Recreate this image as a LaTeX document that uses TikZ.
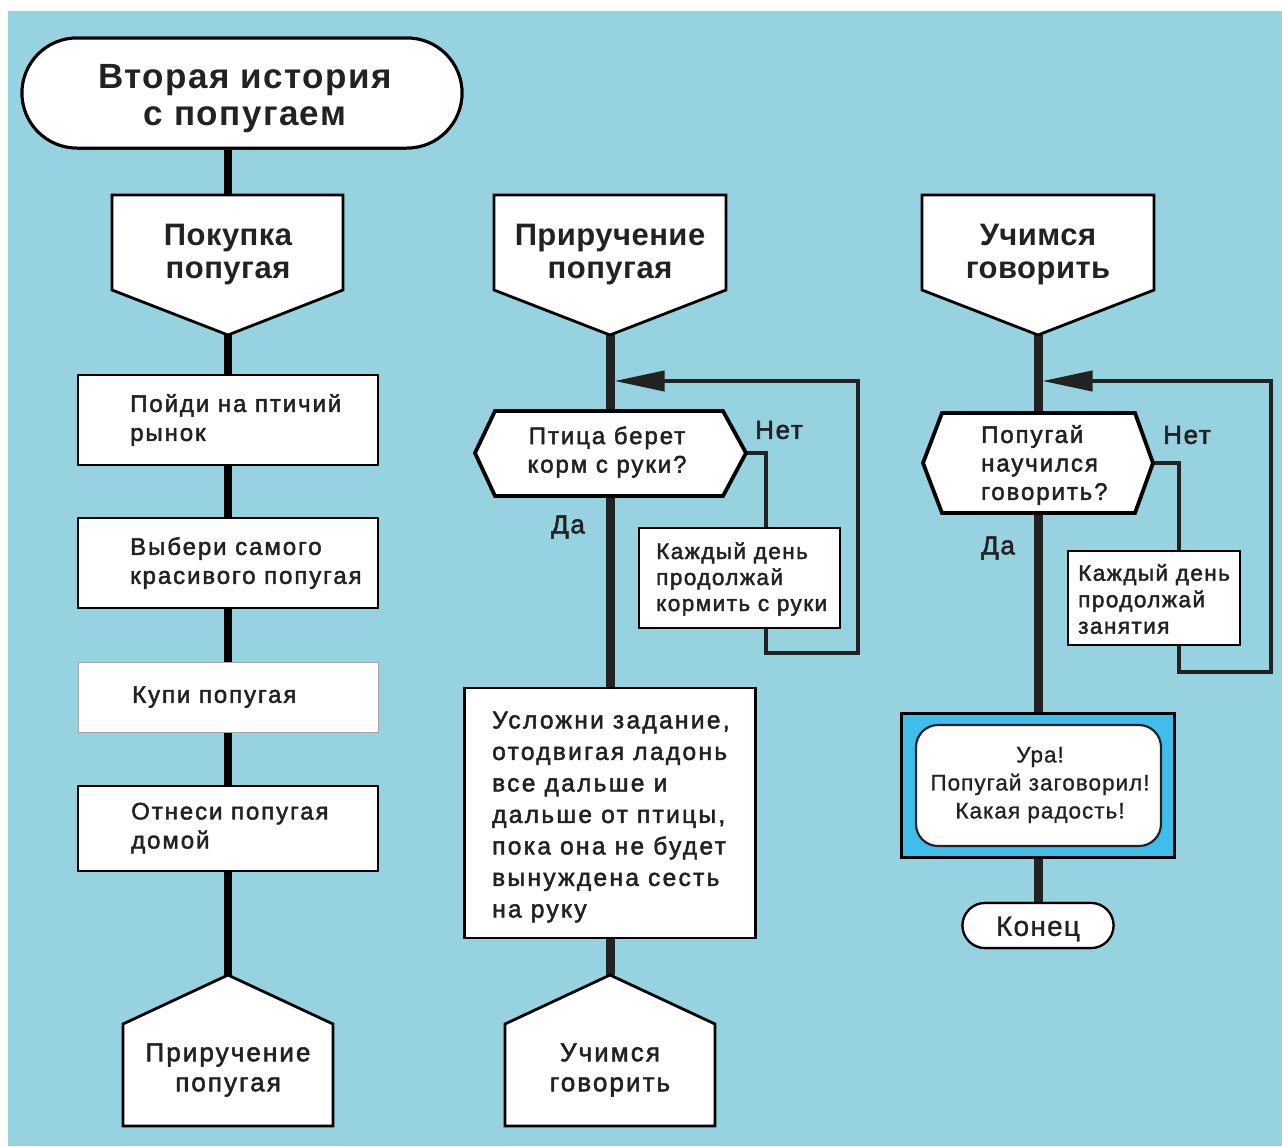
\documentclass[tikz,border=0pt]{standalone}
\usepackage{fontspec}
\setmainfont{Liberation Sans}
\newfontfamily\headfont[LetterSpace=1.5]{Liberation Sans}
\newfontfamily\titlefont[LetterSpace=4]{Liberation Sans}
\newfontfamily\bodyfont[LetterSpace=8,FakeBold=2]{Liberation Sans}
\newfontfamily\widefont[LetterSpace=9.5,FakeBold=2]{Liberation Sans}
\newfontfamily\midfont[LetterSpace=6.5,FakeBold=2]{Liberation Sans}
\newfontfamily\plainfont[LetterSpace=4.5,FakeBold=1]{Liberation Sans}
\usetikzlibrary{arrows.meta}

\definecolor{sky}{HTML}{96D2DF}
\definecolor{glow}{HTML}{3FBEEB}
\definecolor{ink}{HTML}{222222}

\tikzset{
  shapeline/.style={draw=black, line width=2.8pt, fill=white, line join=miter},
  hexline/.style={draw=black, line width=3.8pt, fill=white, line join=miter},
  procbox/.style={draw=black, line width=2.8pt, fill=white, inner sep=0pt},
  thinbox/.style={draw=gray!70, line width=1pt, fill=white, inner sep=0pt},
  flowleft/.style={draw=black, line width=8pt},
  flowmid/.style={draw=ink, line width=9pt},
  loopline/.style={draw=ink, line width=4pt, line join=miter},
  looparrow/.style={loopline, -{Triangle[length=50pt,width=20pt]}},
  txt/.style={text=ink, inner sep=0pt},
  headtxt/.style={txt, align=center, font=\headfont\bfseries\fontsize{31}{33}\selectfont},
  foottxt/.style={txt, align=center, font=\bodyfont\fontsize{26}{30}\selectfont},
  steptxt/.style={txt, align=left, anchor=west, font=\bodyfont\fontsize{24}{29}\selectfont},
  qtxt/.style={txt, font=\bodyfont\fontsize{24}{28.5}\selectfont},
  tagtxt/.style={txt, font=\midfont\fontsize{26}{28}\selectfont},
}

\begin{document}
\begin{tikzpicture}[x=1pt,y=-1pt]
\useasboundingbox (0,0) rectangle (1282,1146);
\fill[white] (0,0) rectangle (1282,1146);
\fill[sky] (8,11) rectangle (1282,1146);

% ---------- named anchor points ----------
% column 1
\coordinate (p1top) at (228,195);
\coordinate (p1tip) at (228,335);
\coordinate (f1tip) at (228,975);
% column 2
\coordinate (p2tip) at (610,335);
\coordinate (q1top) at (610,411);
\coordinate (q1bot) at (610,496);
\coordinate (q1right) at (746,453);
\coordinate (k1in) at (766,528);
\coordinate (k1out) at (766,628);
\coordinate (m1join) at (614.5,381);
\coordinate (m1turn) at (858,381);
\coordinate (m1low) at (858,653);
\coordinate (f2tip) at (610,975);
% column 3
\coordinate (p3tip) at (1038,335);
\coordinate (q2top) at (1038,413);
\coordinate (q2bot) at (1038,513);
\coordinate (q2right) at (1153,463);
\coordinate (k2in) at (1179,551);
\coordinate (k2out) at (1179,645);
\coordinate (m2join) at (1042.5,381);
\coordinate (m2turn) at (1271,381);
\coordinate (m2low) at (1271,672);

% ---------- boxes ----------
\node[procbox, draw=black, line width=3pt, rounded corners=55pt,
      minimum width=440pt, minimum height=110pt] (title) at (242,93) {};
\node[procbox, minimum width=300pt, minimum height=90pt] (s1) at (228,420) {};
\node[procbox, minimum width=300pt, minimum height=90pt] (s2) at (228,563) {};
\node[thinbox, minimum width=300pt, minimum height=70pt] (s3) at (228,697) {};
\node[procbox, minimum width=300pt, minimum height=85pt] (s4) at (228,828.5) {};
\node[procbox, minimum width=201pt, minimum height=100pt] (k1) at (739.5,578) {};
\node[procbox, minimum width=291pt, minimum height=250pt] (big) at (610,813) {};
\node[procbox, minimum width=172pt, minimum height=94pt] (k2) at (1154,598) {};
\node[procbox, fill=glow, line width=3pt, minimum width=273pt, minimum height=144pt] (joy) at (1038,785) {};
\node[procbox, rounded corners=22.5pt, line width=2.2pt,
      minimum width=151pt, minimum height=45pt] (fin) at (1038,925.5) {};

% ---------- main flow lines ----------
\draw[flowleft] (title.south -| p1top) -- (p1top);
\draw[flowleft] (p1tip) -- (s1.north);
\draw[flowleft] (s1.south) -- (s2.north);
\draw[flowleft] (s2.south) -- (s3.north);
\draw[flowleft] (s3.south) -- (s4.north);
\draw[flowleft] (s4.south) -- (f1tip);

\draw[flowmid] (p2tip) -- (q1top);
\draw[flowmid] (q1bot) -- (big.north);
\draw[flowmid] (big.south) -- (f2tip);

\draw[flowmid] (p3tip) -- (q2top);
\draw[flowmid] (q2bot) -- (joy.north);
\draw[flowmid] (joy.south) -- (fin.north);

% ---------- loops ----------
\draw[loopline] (q1right) -| (k1in);
\draw[looparrow] (k1out) |- (m1low) -- (m1turn) -- (m1join);
\draw[loopline] (q2right) -| (k2in);
\draw[looparrow] (k2out) |- (m2low) -- (m2turn) -- (m2join);

% redraw boxes over line ends
\node[procbox, draw=black, line width=3pt, rounded corners=55pt,
      minimum width=440pt, minimum height=110pt] at (title) {};
\node[procbox, minimum width=201pt, minimum height=100pt] at (k1) {};
\node[procbox, minimum width=172pt, minimum height=94pt] at (k2) {};
\node[procbox, fill=glow, line width=3pt, minimum width=273pt, minimum height=144pt] at (joy) {};
\node[procbox, rounded corners=22.5pt, line width=2.2pt,
      minimum width=151pt, minimum height=45pt] at (fin) {};
\draw[fill=white, draw=ink, line width=2.2pt, rounded corners=22pt]
  (916,725) rectangle (1161,846);

% ---------- off-page connectors ----------
\draw[shapeline] (112,195) -- (343,195) -- (343,290) -- (p1tip) -- (112,290) -- cycle;
\draw[shapeline] (494,195) -- (726,195) -- (726,290) -- (p2tip) -- (494,290) -- cycle;
\draw[shapeline] (922,195) -- (1154,195) -- (1154,290) -- (p3tip) -- (922,290) -- cycle;
\draw[shapeline] (f1tip) -- (333,1024) -- (333,1126) -- (123,1126) -- (123,1024) -- cycle;
\draw[shapeline] (f2tip) -- (715,1024) -- (715,1126) -- (505,1126) -- (505,1024) -- cycle;

% ---------- decisions ----------
\draw[hexline] (475,453) -- (495,411) -- (723,411) -- (q1right) -- (723,496) -- (495,496) -- cycle;
\draw[hexline] (923,463) -- (942,413) -- (1135,413) -- (q2right) -- (1135,513) -- (942,513) -- cycle;

% ---------- texts ----------
\node[txt, align=center, font=\titlefont\bfseries\fontsize{35}{37}\selectfont]
  (titletxt) at (245,99) {Вторая история\\с попугаем};
\node[headtxt] (h1) at (228,255) {Покупка\\попугая};
\node[headtxt] (h2) at (610,255) {Приручение\\попугая};
\node[headtxt] (h3) at (1038,255) {Учимся\\говорить};

\node[steptxt] (t1) at (130,420) {Пойди на птичий\\рынок};
\node[steptxt] (t2) at (130,563) {Выбери самого\\красивого попугая};
\node[steptxt] (t3) at (132,697) {Купи попугая};
\node[steptxt] (t4) at (131,828) {Отнеси попугая\\домой};

\node[qtxt, align=center] (qt1) at (607,452) {Птица берет\\корм с руки?};
\node[qtxt, align=left, anchor=west] (qt2) at (981,465) {Попугай\\научился\\говорить?};

\node[tagtxt] (no1) at (779,430) {Нет};
\node[tagtxt] (yes1) at (568,527) {Да};
\node[tagtxt] (no2) at (1187,435) {Нет};
\node[tagtxt] (yes2) at (998,548) {Да};

\node[txt, align=left, anchor=west, font=\midfont\fontsize{22.5}{26}\selectfont]
  (kt1) at (656,579) {Каждый день\\продолжай\\кормить с руки};
\node[txt, align=left, anchor=west, font=\midfont\fontsize{22.5}{26.5}\selectfont]
  (kt2) at (1078,599) {Каждый день\\продолжай\\занятия};

\node[txt, align=left, anchor=west, font=\widefont\fontsize{24.5}{31.5}\selectfont]
  (bigtxt) at (492,817) {Усложни задание,\\отодвигая ладонь\\все дальше и\\дальше от птицы,\\пока она не будет\\вынуждена сесть\\на руку};

\node[txt, align=center, font=\plainfont\fontsize{22.5}{28}\selectfont]
  (joytxt) at (1040,785) {Ура!\\Попугай заговорил!\\Какая радость!};
\node[txt, font=\plainfont\fontsize{28}{30}\selectfont] (fintxt) at (1038,929) {Конец};

\node[foottxt] (ft1) at (228,1070) {Приручение\\попугая};
\node[foottxt] (ft2) at (610,1070) {Учимся\\говорить};
\end{tikzpicture}
\end{document}
